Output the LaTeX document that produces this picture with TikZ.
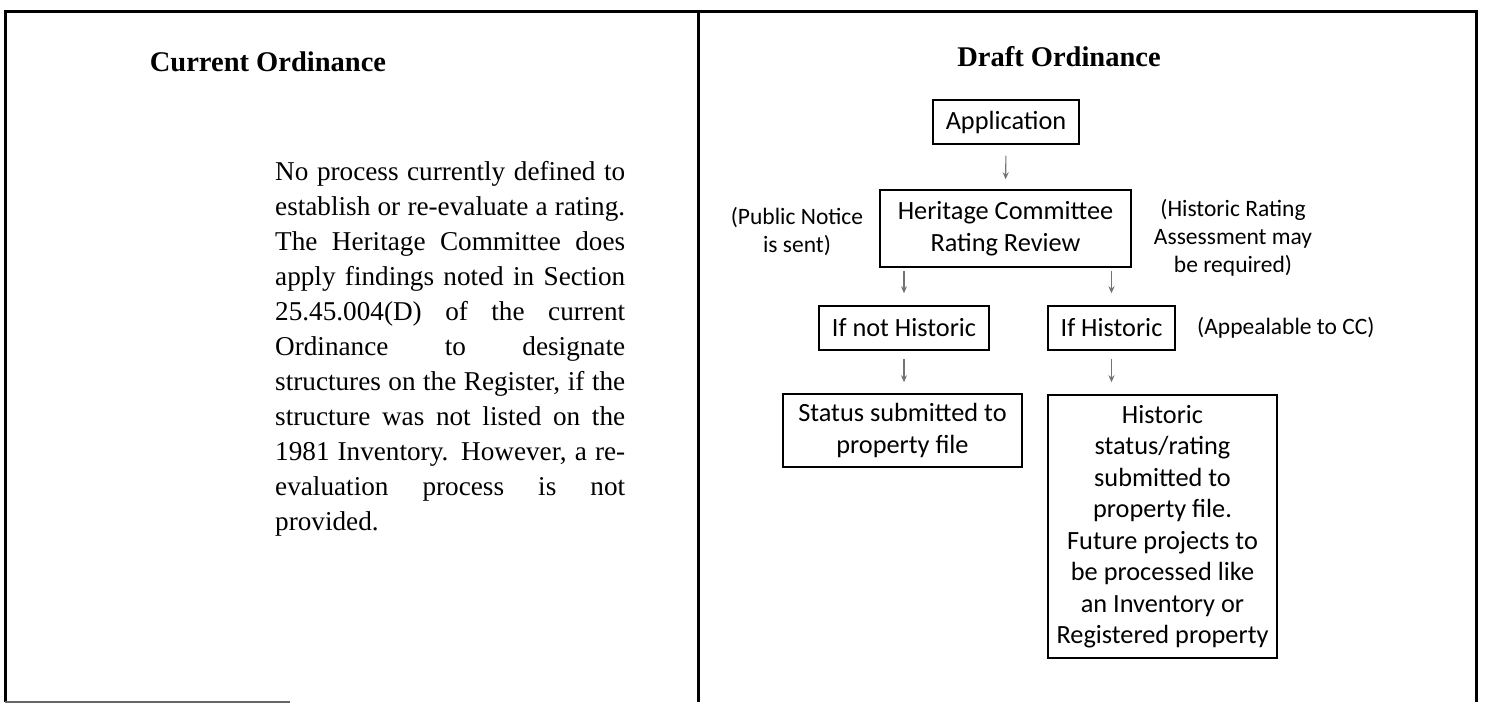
\documentclass[tikz,border=0pt]{standalone}
\usepackage{fontspec}
\setmainfont{Liberation Serif}
\newfontfamily\calfont{Carlito}
\usetikzlibrary{arrows.meta}
\newcommand{\jl}[1]{\makebox[350pt][s]{#1}}
\begin{document}
\begin{tikzpicture}[x=1pt,y=-1pt,
  box/.style={draw=black, line width=1.5pt, inner sep=0pt, align=center,
    font=\calfont\fontsize{26.3}{31.5}\selectfont},
  note/.style={inner sep=0pt, align=center,
    font=\calfont\fontsize{23.5}{28}\selectfont},
  arr/.style={draw=black!55, line width=1.1pt, -{Stealth[length=7pt,width=6pt]}},
  frameline/.style={line width=3pt, draw=black},
  title/.style={inner sep=0pt, font=\bfseries\fontsize{28.5}{34}\selectfont},
  body/.style={inner sep=0pt, align=left, font=\fontsize{27.2}{35}\selectfont}
]
\useasboundingbox (0,0) rectangle (1486,704);
% frame
\coordinate (tl) at (5,11);
\coordinate (tr) at (1476,11);
\coordinate (bl) at (5,702);
\coordinate (br) at (1476,702);
\coordinate (dt) at (698,11);
\coordinate (db) at (698,702);
\coordinate (bend) at (290,702);
\draw[frameline] (bl) -- (tl) -- (tr) -- (br);
\draw[frameline] (dt) -- (db);
\draw[line width=2pt, draw=black!60] (bl) -- (bend);
% left panel
\node[title] (curtitle) at (268,62) {Current Ordinance};
\node[body, anchor=north west] (curtext) at (275,161) {%
\jl{No process currently defined to}\\
\jl{establish or re-evaluate a rating.}\\
\jl{The Heritage Committee does}\\
\jl{apply findings noted in Section}\\
\jl{25.45.004(D) of the current}\\
\jl{Ordinance to designate}\\
\jl{structures on the Register, if the}\\
\jl{structure was not listed on the}\\
\jl{1981 Inventory. However, a re-}\\
\jl{evaluation process is not}\\
provided.};
% right panel
\node[title] (drafttitle) at (1059,57) {Draft Ordinance};
\node[box, minimum width=146pt, minimum height=44pt] (app) at (1006,122) {Application};
\node[box, minimum width=251pt, minimum height=77pt] (hc) at (1005.5,228.5) {Heritage Committee\\Rating Review};
\node[note] (pn) at (797,232) {(Public Notice\\is sent)};
\node[note] (hra) at (1233,238) {(Historic Rating\\Assessment may\\be required)};
\node[box, minimum width=170pt, minimum height=44pt] (ifnot) at (904,328) {If not Historic};
\node[box, minimum width=127pt, minimum height=44pt] (ifhist) at (1111.5,328) {If Historic};
\node[note, anchor=west] (appeal) at (1197,328) {(Appealable to CC)};
\node[box, minimum width=239pt, minimum height=73pt] (status) at (902.5,430.5) {Status submitted to\\property file};
\node[box, minimum width=229pt, minimum height=263pt] (hist) at (1162.5,526.5) {Historic\\status/rating\\submitted to\\property file.\\Future projects to\\be processed like\\an Inventory or\\Registered property};
% connectors
\draw[arr, shorten <=11pt, shorten >=10pt] (app.south) -- (hc.north);
\draw[arr, shorten <=3pt, shorten >=12pt] (hc.south -| ifnot.north) -- (ifnot.north);
\draw[arr, shorten <=3pt, shorten >=12pt] (hc.south -| ifhist.north) -- (ifhist.north);
\draw[arr, shorten <=8pt, shorten >=11pt] (ifnot.south) -- (ifnot.south |- status.north);
\draw[arr, shorten <=8pt, shorten >=12pt] (ifhist.south) -- (ifhist.south |- hist.north);
\end{tikzpicture}
\end{document}
